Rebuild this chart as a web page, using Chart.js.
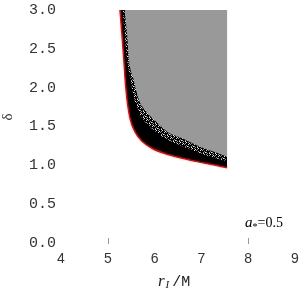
<!DOCTYPE html>
<html>
<head>
<meta charset="utf-8">
<script src="https://cdn.jsdelivr.net/npm/chart.js@4/dist/chart.umd.min.js"></script>
<style>
  body { margin: 0; background: #fff; }
  #wrap { width: 301px; height: 291px; }
</style>
</head>
<body>
<div id="wrap"><canvas id="myChart" width="301" height="291"></canvas></div>
<script>
// axis ticks
var xTicks = [4, 5, 6, 7, 8, 9];
var yTicks = [0, 0.5, 1.0, 1.5, 2.0, 2.5, 3.0];
var tickMarks = [5, 8];

// outer (red) boundary of the region
var edgeX = [5.26, 5.30, 5.34, 5.37, 5.41, 5.48, 5.59, 5.73, 5.94, 6.23, 6.59, 7.05, 7.30, 7.55];
var edgeY = [3.00, 2.70, 2.38, 2.11, 1.85, 1.59, 1.42, 1.31, 1.22, 1.15, 1.09, 1.03, 1.00, 0.97];

// top of the solid black band
var blackX = [5.32, 5.36, 5.41, 5.48, 5.56, 5.70, 5.88, 6.09, 6.37, 6.70, 7.05, 7.30, 7.55];
var blackY = [3.00, 2.70, 2.37, 2.11, 1.86, 1.64, 1.51, 1.40, 1.30, 1.22, 1.14, 1.09, 1.05];

// where the speckled band turns into the grey region
var greyX = [5.36, 5.41, 5.45, 5.55, 5.66, 5.84, 6.02, 6.30, 6.59, 7.05, 7.30, 7.55];
var greyY = [3.00, 2.70, 2.37, 2.11, 1.85, 1.68, 1.57, 1.42, 1.35, 1.22, 1.17, 1.11];

function toPoints(xs, ys) {
    var pts = [];
    for (var i = 0; i < xs.length; i++) pts.push({ x: xs[i], y: ys[i] });
    return pts;
}

// little dither pattern for the noisy band
function speckle() {
    var map = ["kkwkgk", "gkkkkk", "kwgkkg", "kkkgkw", "wkgkkk", "kkkwkg"];
    var cols = { k: "#000000", w: "#e8e8e8", g: "#8c8c8c" };
    var c = document.createElement("canvas");
    c.width = 6; c.height = 6;
    var g = c.getContext("2d");
    for (var r = 0; r < 6; r++) {
        for (var k = 0; k < 6; k++) {
            g.fillStyle = cols[map[r][k]];
            g.fillRect(k, r, 1, 1);
        }
    }
    return g.createPattern(c, "repeat");
}

var labelsPlugin = {
    id: "labels",
    afterDraw: function (chart) {
        var ctx = chart.ctx;
        var xs = chart.scales.x, ys = chart.scales.y;
        ctx.save();
        // the two little tick marks
        ctx.strokeStyle = "#999";
        ctx.lineWidth = 1;
        tickMarks.forEach(function (v) {
            var px = Math.round(xs.getPixelForValue(v)) + 0.5;
            ctx.beginPath();
            ctx.moveTo(px, ys.bottom - 5);
            ctx.lineTo(px, ys.bottom + 1);
            ctx.stroke();
        });

        ctx.fillStyle = "#222";
        ctx.textBaseline = "alphabetic";
        ctx.textAlign = "left";

        // x title: r_I / M
        var x = 158, base = 286;
        ctx.font = "italic 17px 'Liberation Serif'";
        ctx.fillText("r", x, base);
        x += ctx.measureText("r").width + 1;
        ctx.font = "italic 11px 'Liberation Serif'";
        ctx.fillText("I", x, base + 2);
        x += ctx.measureText("I").width + 3;
        ctx.font = "15px 'Liberation Mono'";
        ctx.fillText("/M", x, base);

        // annotation a* = 0.5
        ctx.fillStyle = "#000";
        x = 245; base = 227;
        ctx.font = "italic 15px 'Liberation Serif'";
        ctx.fillText("a", x, base);
        x += ctx.measureText("a").width;
        ctx.font = "10px 'Liberation Serif'";
        ctx.fillText("*", x, base + 3);
        x += ctx.measureText("*").width;
        ctx.font = "14px 'Liberation Serif'";
        ctx.fillText("=0.5", x, base);

        // y title δ (rotated)
        ctx.fillStyle = "#333";
        ctx.translate(8, 117);
        ctx.rotate(-Math.PI / 2);
        ctx.font = "15px 'Liberation Serif'";
        ctx.textAlign = "center";
        ctx.textBaseline = "middle";
        ctx.fillText("δ", 0, 0);
        ctx.restore();
    }
};

var ctx = document.getElementById("myChart");
var myChart = new Chart(ctx, {
    type: "scatter",
    data: {
        datasets: [{
            label: "edge",
            data: toPoints(edgeX, edgeY),
            showLine: true,
            fill: "end",
            backgroundColor: "#000000",
            borderColor: "#ff0000",
            borderWidth: 1.5,
            pointRadius: 0,
            cubicInterpolationMode: "monotone",
            order: 3
        }, {
            label: "band",
            data: toPoints(blackX, blackY),
            showLine: true,
            fill: "end",
            backgroundColor: speckle(),
            borderWidth: 0,
            pointRadius: 0,
            cubicInterpolationMode: "monotone",
            order: 2
        }, {
            label: "region",
            data: toPoints(greyX, greyY),
            showLine: true,
            fill: "end",
            backgroundColor: "#999999",
            borderWidth: 0,
            pointRadius: 0,
            cubicInterpolationMode: "monotone",
            order: 1
        }]
    },
    options: {
        responsive: false,
        animation: { duration: 0 },
        layout: { padding: { left: 0, right: 6, top: 10, bottom: 0 } },
        plugins: {
            legend: { display: false },
            tooltip: { enabled: false }
        },
        scales: {
            x: {
                type: "linear",
                min: 4, max: 9,
                afterBuildTicks: function (s) { s.ticks = xTicks.map(function (v) { return { value: v }; }); },
                afterFit: function (s) { s.height = 48; s.paddingLeft = 0; s.paddingRight = 0; },
                grid: { display: false, drawTicks: false },
                border: { display: false },
                ticks: {
                    padding: 8,
                    color: "#333",
                    font: { family: "'Liberation Sans'", size: 14 },
                    maxRotation: 0
                }
            },
            y: {
                type: "linear",
                min: 0, max: 3,
                afterBuildTicks: function (s) { s.ticks = yTicks.map(function (v) { return { value: v }; }); },
                afterFit: function (s) { s.width = 61; s.paddingTop = 0; s.paddingBottom = 0; },
                grid: { display: false, drawTicks: false },
                border: { display: false },
                ticks: {
                    padding: 5,
                    color: "#333",
                    font: { family: "'Liberation Mono'", size: 15 },
                    callback: function (v) { return v.toFixed(1); }
                }
            }
        }
    },
    plugins: [labelsPlugin]
});
</script>
</body>
</html>
